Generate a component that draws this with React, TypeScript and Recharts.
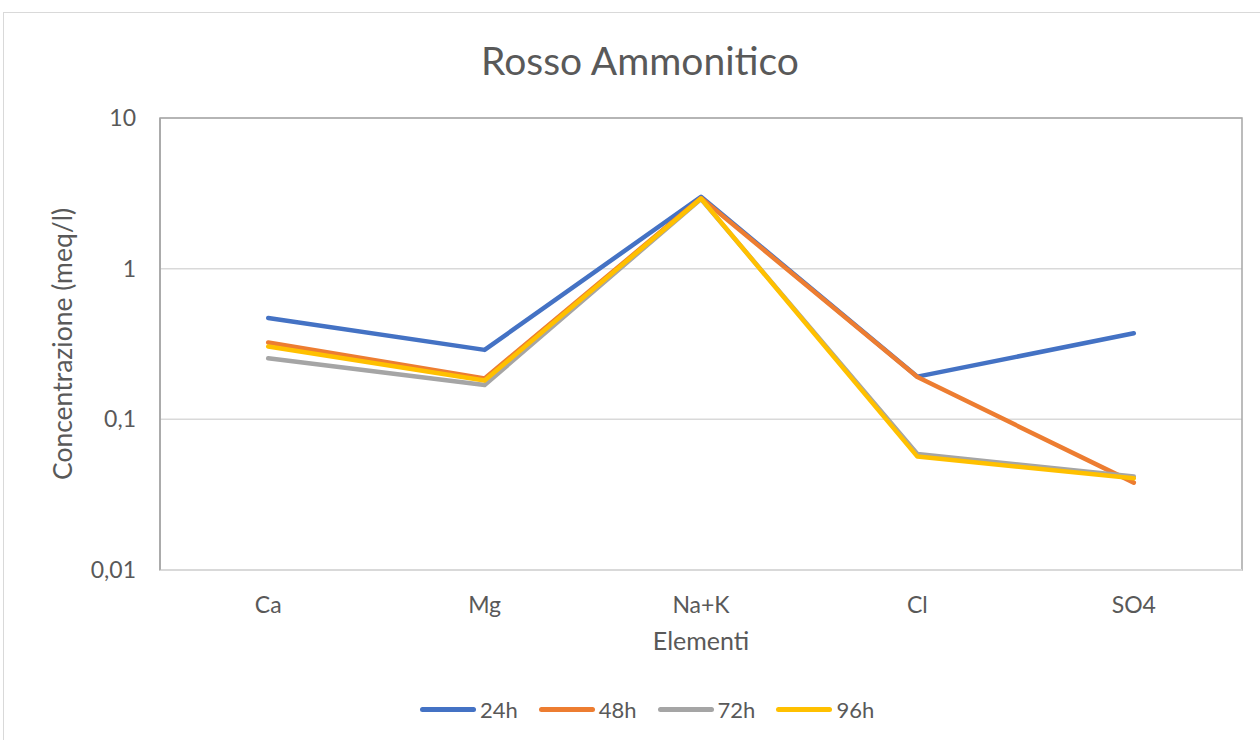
import React from 'react';
import { LineChart, Line, XAxis, YAxis, CartesianGrid, ReferenceArea, Label } from 'recharts';

const categories = ['Ca', 'Mg', 'Na+K', 'Cl', 'SO4'];
const h24 = [0.47, 0.289, 3.0, 0.192, 0.373];
const h48 = [0.324, 0.187, 2.94, 0.191, 0.038];
const h72 = [0.254, 0.169, 2.9, 0.0589, 0.0417];
const h96 = [0.304, 0.181, 2.92, 0.0566, 0.0406];
const yTicks = [0.01, 0.1, 1, 10];

const series = [
  { key: '24h', values: h24, color: '#4472C4' },
  { key: '48h', values: h48, color: '#ED7D31' },
  { key: '72h', values: h72, color: '#A5A5A5' },
  { key: '96h', values: h96, color: '#FFC000' },
];

const data = categories.map((name, i) => {
  const row: Record<string, string | number> = { name };
  series.forEach((s) => {
    row[s.key] = s.values[i];
  });
  return row;
});

const FONT = 'Lato, "Open Sans", sans-serif';
const TEXT = '#595959';

const fmt = (v: number) => String(v).replace('.', ',');

export default function App() {
  return (
    <div
      style={{
        position: 'absolute',
        left: 0,
        top: 0,
        width: 1260,
        height: 740,
        overflow: 'hidden',
        background: '#fff',
        fontFamily: FONT,
      }}
    >
      <div
        style={{
          position: 'absolute',
          left: 3,
          top: 12,
          width: 1300,
          height: 800,
          border: '1px solid #D9D9D9',
        }}
      />
      <div
        style={{
          position: 'absolute',
          left: 0,
          width: 1280,
          top: 37,
          textAlign: 'center',
          fontSize: 39,
          color: TEXT,
        }}
      >
        Rosso Ammonitico
      </div>
      <div style={{ position: 'absolute', left: 0, top: 0 }}>
        <LineChart width={1260} height={740} data={data} margin={{ top: 118, right: 18, left: 100, bottom: 140 }}>
          <CartesianGrid vertical={false} stroke="#D9D9D9" strokeWidth={1.5} />
          {/* plot area frame */}
          <ReferenceArea y1={0.01} y2={10} fill="none" stroke="#A6A6A6" strokeWidth={1.5} ifOverflow="visible" />
          <XAxis
            dataKey="name"
            scale="band"
            height={30}
            tickLine={false}
            tickSize={8}
            tickMargin={19}
            axisLine={{ stroke: '#D9D9D9', strokeWidth: 2 }}
            tick={{ fill: TEXT, fontSize: 23, fontFamily: FONT }}
          >
            <Label
              content={({ viewBox }: any) => (
                <text
                  x={viewBox.x + viewBox.width / 2}
                  y={viewBox.y + 80}
                  textAnchor="middle"
                  fill={TEXT}
                  fontSize={25}
                  fontFamily={FONT}
                >
                  Elementi
                </text>
              )}
            />
          </XAxis>
          <YAxis
            scale="log"
            domain={[0.01, 10]}
            ticks={yTicks}
            allowDataOverflow
            width={60}
            tickLine={false}
            tickSize={8}
            tickMargin={16}
            tickFormatter={fmt}
            axisLine={{ stroke: '#A6A6A6', strokeWidth: 1.5 }}
            tick={{ fill: TEXT, fontSize: 23, fontFamily: FONT }}
          >
            <Label
              content={({ viewBox }: any) => {
                const cx = viewBox.x - 38;
                const cy = viewBox.y + viewBox.height / 2;
                return (
                  <text
                    x={cx}
                    y={cy}
                    transform={`rotate(-90 ${cx} ${cy})`}
                    textAnchor="middle"
                    dominantBaseline="central"
                    fill={TEXT}
                    fontSize={26.5}
                    fontFamily={FONT}
                  >
                    Concentrazione (meq/l)
                  </text>
                );
              }}
            />
          </YAxis>
          {series.map((s) => (
            <Line
              key={s.key}
              dataKey={s.key}
              stroke={s.color}
              strokeWidth={4.5}
              strokeLinecap="round"
              strokeLinejoin="round"
              dot={false}
              activeDot={false}
              type="linear"
              isAnimationActive={false}
            />
          ))}
        </LineChart>
      </div>
      <div
        style={{
          position: 'absolute',
          top: 696,
          left: 420,
          display: 'flex',
          gap: 21,
          fontSize: 22,
          color: TEXT,
        }}
      >
        {series.map((s) => (
          <div key={s.key} style={{ display: 'flex', alignItems: 'center' }}>
            <span
              style={{
                display: 'inline-block',
                width: 56,
                height: 5,
                borderRadius: 3,
                background: s.color,
                marginRight: 4,
              }}
            />
            <span>{s.key}</span>
          </div>
        ))}
      </div>
    </div>
  );
}
